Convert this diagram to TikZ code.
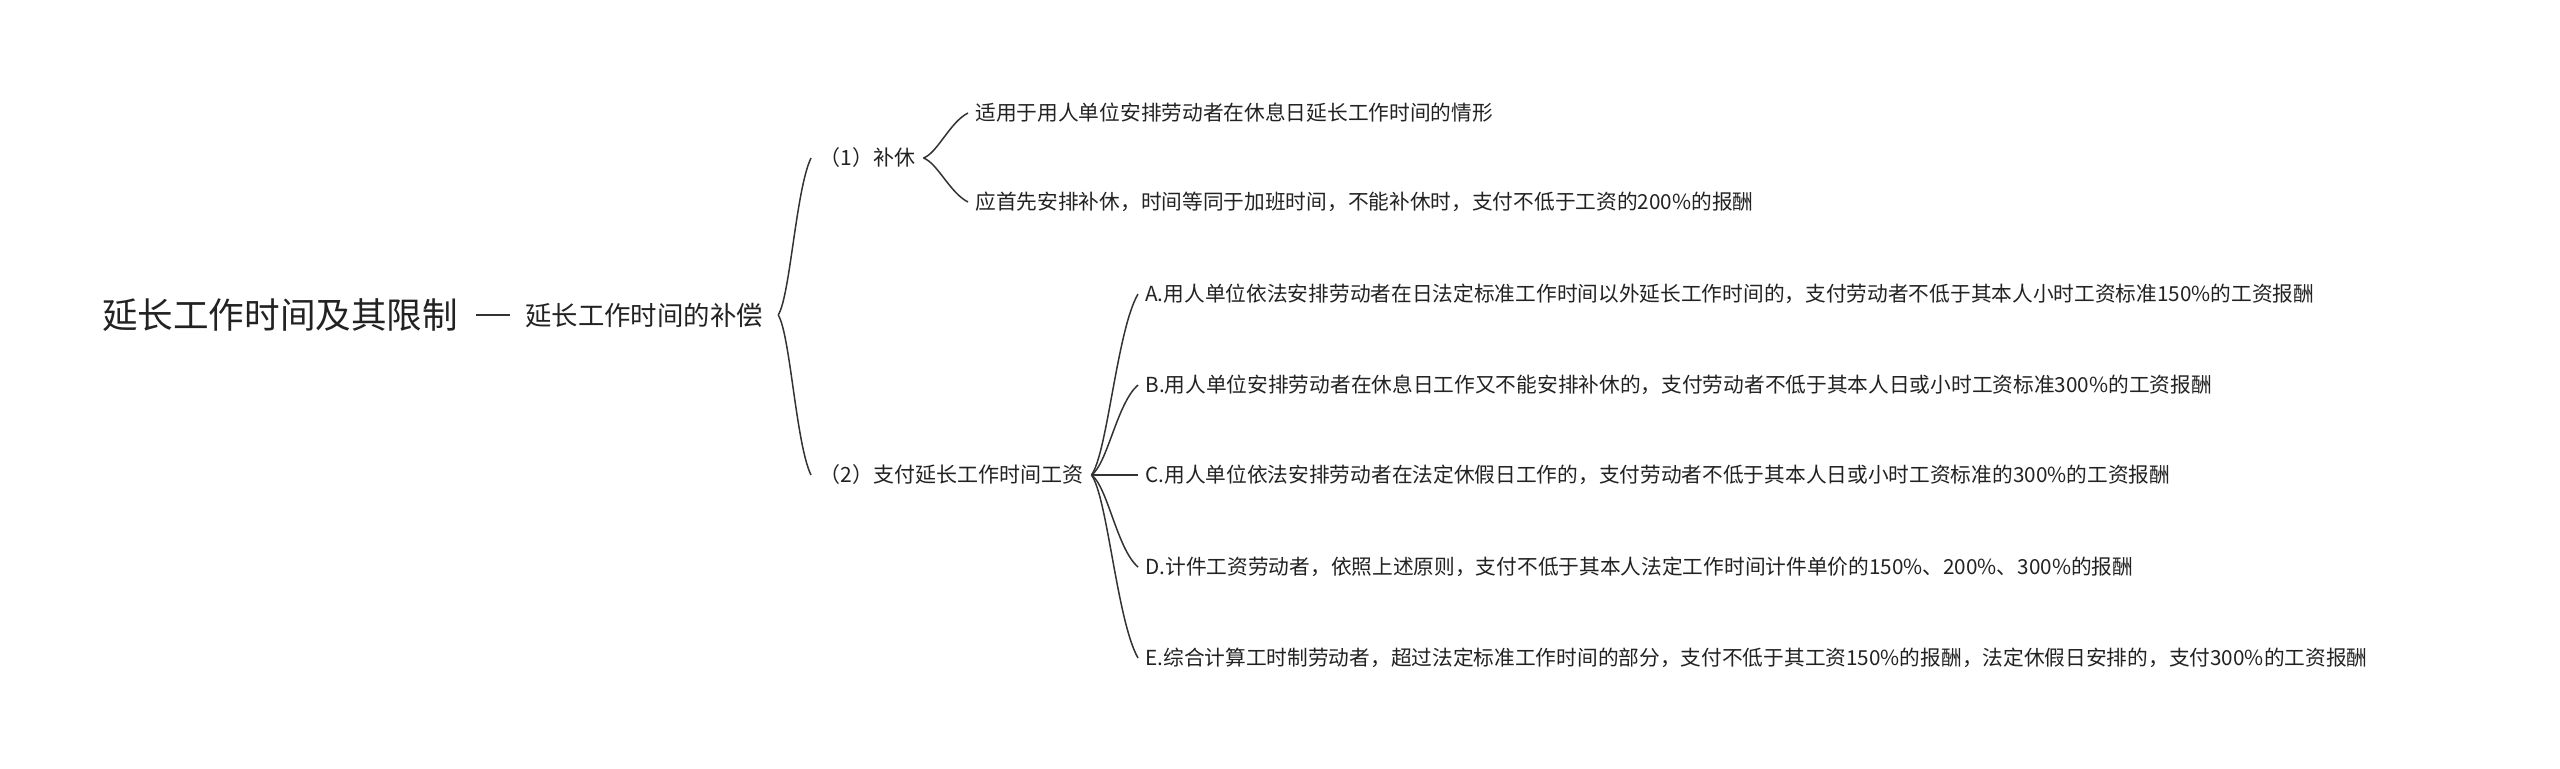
\documentclass[tikz,border=0pt]{standalone}
\usepackage{fontspec}
\setmainfont{Noto Sans CJK SC}
\definecolor{linec}{HTML}{333333}
\definecolor{textc}{HTML}{222222}
\begin{document}
\begin{tikzpicture}[x=0.5pt,y=-0.5pt,
  lnk/.style={draw=linec, line width=0.75pt},
  rootn/.style={font=\fontsize{17.8}{20}\selectfont, inner xsep=9pt, inner ysep=2pt, text=textc},
  mainn/.style={font=\fontsize{13.2}{15}\selectfont, inner xsep=7.5pt, inner ysep=2pt, text=textc},
  subn/.style={font=\fontsize{10.5}{12}\selectfont, inner xsep=4pt, inner ysep=2pt, text=textc, anchor=west},
  leafn/.style={font=\fontsize{10.35}{12}\selectfont, inner xsep=3.5pt, inner ysep=2pt, text=textc, anchor=west}]
\useasboundingbox (0,0) rectangle (2560,768);

\node[rootn] (root) at (280,315) {延长工作时间及其限制};
\node[mainn] (main) at (644,315) {延长工作时间的补偿};
\node[subn] (s1) at (811,158) {（1）补休};
\node[subn] (s2) at (811,475) {（2）支付延长工作时间工资};
\node[leafn] (p1) at (968,113) {适用于用人单位安排劳动者在休息日延长工作时间的情形};
\node[leafn] (p2) at (968,202) {应首先安排补休，时间等同于加班时间，不能补休时，支付不低于工资的200\%的报酬};
\node[leafn] (qa) at (1138,294) {A.用人单位依法安排劳动者在日法定标准工作时间以外延长工作时间的，支付劳动者不低于其本人小时工资标准150\%的工资报酬};
\node[leafn] (qb) at (1138,385) {B.用人单位安排劳动者在休息日工作又不能安排补休的，支付劳动者不低于其本人日或小时工资标准300\%的工资报酬};
\node[leafn] (qc) at (1138,475) {C.用人单位依法安排劳动者在法定休假日工作的，支付劳动者不低于其本人日或小时工资标准的300\%的工资报酬};
\node[leafn] (qd) at (1138,567) {D.计件工资劳动者，依照上述原则，支付不低于其本人法定工作时间计件单价的150\%、200\%、300\%的报酬};
\node[leafn] (qe) at (1138,658) {E.综合计算工时制劳动者，超过法定标准工作时间的部分，支付不低于其工资150\%的报酬，法定休假日安排的，支付300\%的工资报酬};

\draw[lnk] (root.east) -- (main.west);
\draw[lnk] (main.east) .. controls +(12,-19) and +(-15,31) .. (s1.west);
\draw[lnk] (main.east) .. controls +(12,19) and +(-15,-31) .. (s2.west);
\draw[lnk] (s1.east) .. controls +(14,-5) and +(-18,9) .. (p1.west);
\draw[lnk] (s1.east) .. controls +(14,5) and +(-18,-9) .. (p2.west);
\draw[lnk] (s2.east) .. controls +(16,-22) and +(-21,36) .. (qa.west);
\draw[lnk] (s2.east) .. controls +(16,-11) and +(-21,18) .. (qb.west);
\draw[lnk] (s2.east) -- (qc.west);
\draw[lnk] (s2.east) .. controls +(16,11) and +(-21,-18) .. (qd.west);
\draw[lnk] (s2.east) .. controls +(16,22) and +(-21,-37) .. (qe.west);
\end{tikzpicture}
\end{document}
